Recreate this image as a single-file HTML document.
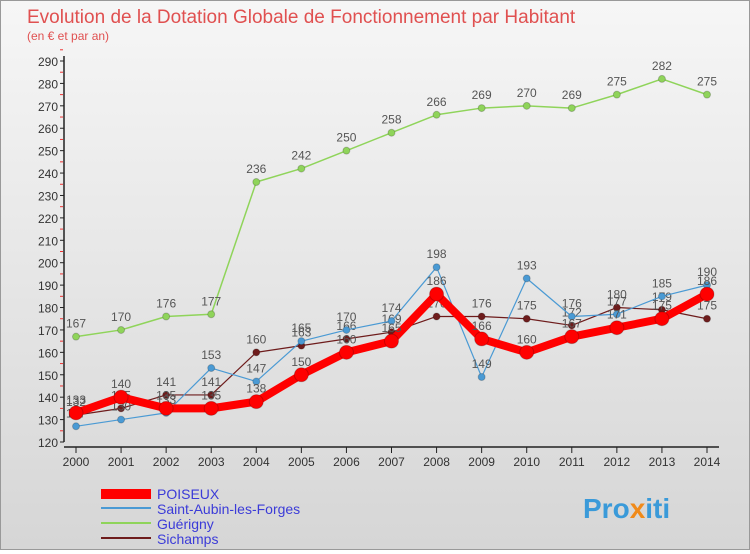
<!DOCTYPE html>
<html><head><meta charset="utf-8"><style>
body{margin:0;width:750px;height:550px;overflow:hidden;font-family:"Liberation Sans",sans-serif}
#wrap{position:relative;width:748px;height:548px;border:1px solid #999;background:linear-gradient(#f6f6f6,#d6d6d6)}
</style></head><body>
<div id="wrap">
<svg id="c" width="748" height="548" xmlns="http://www.w3.org/2000/svg">
<text x="26" y="22" font-size="19" fill="#e05050">Evolution de la Dotation Globale de Fonctionnement par Habitant</text>
<text x="26" y="39" font-size="12" fill="#e05050">(en € et par an)</text>
<g id="axes"></g><g id="series"></g>
<g>
<rect x="100" y="488" width="50" height="10" fill="#f00"/><text x="156" y="498" font-size="14" fill="#3b3bd8">POISEUX</text>
<rect x="100" y="506" width="50" height="2" fill="#4a9ad4"/><text x="156" y="513" font-size="14" fill="#3b3bd8">Saint-Aubin-les-Forges</text>
<rect x="100" y="521" width="50" height="2" fill="#8fd45a"/><text x="156" y="528" font-size="14" fill="#3b3bd8">Guérigny</text>
<rect x="100" y="536" width="50" height="2" fill="#6e1c1c"/><text x="156" y="543" font-size="14" fill="#3b3bd8">Sichamps</text>
</g>
<text x="582" y="517" font-size="28" font-weight="bold" fill="#3a9ad9">Pro<tspan fill="#f08a1a">x</tspan>iti</text>
</svg></div>
<script>
const years=[2000,2001,2002,2003,2004,2005,2006,2007,2008,2009,2010,2011,2012,2013,2014];
const poiseux=[133,140,135,135,138,150,160,165,186,166,160,167,171,175,186];
const saintAubin=[127,130,133,153,147,165,170,174,198,149,193,176,177,185,190];
const guerigny=[167,170,176,177,236,242,250,258,266,269,270,269,275,282,275];
const sichamps=[132,135,141,141,160,163,166,169,176,176,175,172,180,179,175];
const yTicks=[120,130,140,150,160,170,180,190,200,210,220,230,240,250,260,270,280,290];
const NS="http://www.w3.org/2000/svg";
const x=i=>75+i*(631/14);
const y=v=>441-(v-120)*(381/170);
function mk(t,a,p){const e=document.createElementNS(NS,t);for(const k in a)e.setAttribute(k,a[k]);p.appendChild(e);return e;}
const ax=document.getElementById('axes');
const yl=mk('line',{x1:63,y1:55,x2:63,y2:441,stroke:'#222','stroke-width':1.5},ax);


const xl=mk('line',{x1:63,y1:446,x2:718,y2:446,stroke:'#222','stroke-width':1.5},ax);


yTicks.forEach(v=>{mk('line',{x1:59,y1:y(v),x2:63,y2:y(v),stroke:'#222'},ax);
mk('line',{x1:59,y1:y(v+5),x2:62,y2:y(v+5),stroke:'#e33'},ax);
const t=mk('text',{x:57,y:y(v)+5,'font-size':12,'text-anchor':'end',fill:'#333'},ax);t.textContent=v;

});
years.forEach((yr,i)=>{mk('line',{x1:x(i),y1:446,x2:x(i),y2:452,stroke:'#222'},ax);
const t=mk('text',{x:x(i),y:465,'font-size':12,'text-anchor':'middle',fill:'#333'},ax);t.textContent=yr;

});
const sg=document.getElementById('series');
function draw(vals,color,w,r,name){const g=mk('g',{},sg);


mk('polyline',{points:vals.map((v,i)=>x(i)+','+y(v)).join(' '),fill:'none',stroke:color,'stroke-width':w,'stroke-linejoin':'round'},g);
vals.forEach((v,i)=>{const c=mk('circle',{cx:x(i),cy:y(v),r:r,fill:color,stroke:'rgba(0,0,0,0.2)'},g);


const t=mk('text',{x:x(i),y:y(v)-9,'font-size':12,'text-anchor':'middle',fill:'#555'},g);t.textContent=v;

});}
draw(guerigny,'#8fd45a',1.5,3.5,'guerigny-series');
draw(sichamps,'#6e1c1c',1.2,3.5,'sichamps-series');
draw(saintAubin,'#4a9ad4',1.2,3.5,'saint-aubin-series');
draw(poiseux,'#f00',8,7,'poiseux-series');
</script></body></html>
